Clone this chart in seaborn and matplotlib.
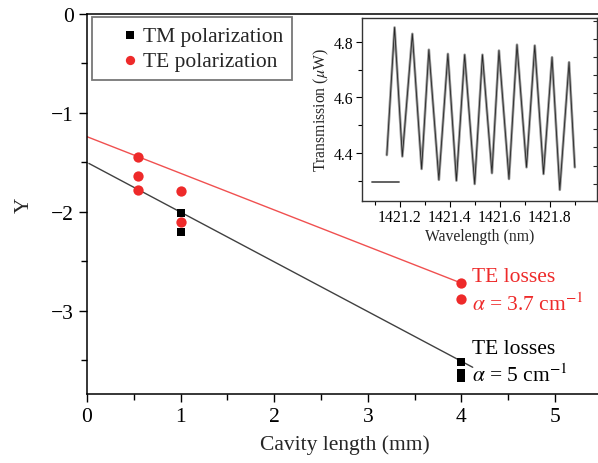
import numpy as np
import pandas as pd
import matplotlib
matplotlib.use('Agg')
import matplotlib.pyplot as plt
import seaborn as sns
from matplotlib.ticker import MultipleLocator, FormatStrFormatter

# Main panel data
te_length = [0.55, 0.55, 0.55, 1.0, 1.0, 4.0, 4.0]
te_y = [-1.45, -1.64, -1.78, -1.79, -2.10, -2.72, -2.88]
tm_length = [1.0, 1.0, 4.0, 4.0, 4.0]
tm_y = [-2.01, -2.20, -3.52, -3.63, -3.68]

# Fitted lines (endpoints)
te_fit_x = [0.0, 4.0]
te_fit_y = [-1.24, -2.72]
tm_fit_x = [0.02, 4.12]
tm_fit_y = [-1.51, -3.57]

# Inset: transmission spectrum (peaks/troughs)
wl = [1421.149, 1421.180, 1421.211, 1421.251, 1421.288, 1421.317, 1421.357,
      1421.393, 1421.427, 1421.460, 1421.500, 1421.531, 1421.569, 1421.597,
      1421.637, 1421.669, 1421.707, 1421.740, 1421.775, 1421.809, 1421.840,
      1421.877, 1421.900]
trans = [4.393, 4.851, 4.388, 4.828, 4.343, 4.771, 4.304, 4.756, 4.301,
         4.753, 4.289, 4.753, 4.328, 4.768, 4.307, 4.789, 4.349, 4.786,
         4.325, 4.744, 4.268, 4.726, 4.349]
base_wl = [1421.09, 1421.196]
base_tr = [4.297, 4.297]

sns.set_style('ticks')
plt.rcParams['font.family'] = ['Liberation Serif', 'DejaVu Serif']
plt.rcParams['mathtext.fontset'] = 'stix'

red = '#ee2a2a'
fs = 15.5

fig = plt.figure(figsize=(5.98, 4.64), dpi=100)
ax = fig.add_axes([0.1455, 0.1487, 0.861, 0.819])

ax.plot(te_fit_x, te_fit_y, color='#f05050', lw=1.0, zorder=2)
ax.plot(tm_fit_x, tm_fit_y, color='#404040', lw=1.0, zorder=2)

tm_df = pd.DataFrame({'x': tm_length, 'y': tm_y})
te_df = pd.DataFrame({'x': te_length, 'y': te_y})
sns.scatterplot(data=tm_df, x='x', y='y', marker='s', color='black', s=40,
                linewidth=0, ax=ax, label='TM polarization', zorder=3)
sns.scatterplot(data=te_df, x='x', y='y', marker='o', color=red, s=55,
                linewidth=0, ax=ax, label='TE polarization', zorder=3)

ax.set_xlim(0, 5.5)
ax.set_ylim(-3.84, 0)
ax.xaxis.set_major_locator(MultipleLocator(1))
ax.xaxis.set_minor_locator(MultipleLocator(0.5))
ax.yaxis.set_major_locator(MultipleLocator(1))
ax.yaxis.set_minor_locator(MultipleLocator(0.5))
ax.tick_params(which='both', direction='out', labelsize=fs, width=1, colors='black')
ax.tick_params(which='major', length=6)
ax.tick_params(which='minor', length=4)
for sp in ax.spines.values():
    sp.set_linewidth(1.1)
    sp.set_color('black')
ax.set_xlabel('Cavity length (mm)', fontsize=fs, labelpad=6)
ax.set_ylabel('Y', fontsize=fs, labelpad=12)

leg = ax.legend(loc='upper left', bbox_to_anchor=(0.01, 0.992), fontsize=fs,
                frameon=True, fancybox=False, handlelength=2.64, handletextpad=-0.72,
                borderpad=0.42, labelspacing=0.2, borderaxespad=0, markerscale=0.9)
leg.get_frame().set_edgecolor('#555555')
leg.get_frame().set_linewidth(1.3)

ax.text(4.11, -2.65, 'TE losses', color=red, fontsize=fs, va='center')
ax.text(4.11, -2.93, r'$\alpha$ = 3.7 cm$^{-1}$', color=red, fontsize=fs, va='center')
ax.text(4.11, -3.38, 'TE losses', color='black', fontsize=fs, va='center')
ax.text(4.11, -3.65, r'$\alpha$ = 5 cm$^{-1}$', color='black', fontsize=fs, va='center')

# Inset
ins = fig.add_axes([0.6054, 0.5647, 0.3935, 0.3944])
spec = pd.DataFrame({'wl': wl, 'tr': trans})
sns.lineplot(data=spec, x='wl', y='tr', color='#9a9a9a', lw=1.9, ax=ins)
sns.lineplot(data=spec, x='wl', y='tr', color='#111111', lw=0.6, alpha=0.85, ax=ins)
ins.plot(base_wl, base_tr, color='#555555', lw=1.3)
ins.set_xlim(1421.05, 1421.99)
ins.set_ylim(4.228, 4.885)
ins.xaxis.set_major_locator(MultipleLocator(0.2))
ins.xaxis.set_minor_locator(MultipleLocator(0.1))
ins.yaxis.set_major_locator(MultipleLocator(0.2))
ins.yaxis.set_minor_locator(MultipleLocator(0.1))
ins.xaxis.set_major_formatter(FormatStrFormatter('%.1f'))
ins.yaxis.set_major_formatter(FormatStrFormatter('%.1f'))
ins.tick_params(which='both', direction='out', labelsize=11.3, width=0.8, colors='black', pad=2)
ins.tick_params(which='major', length=4)
ins.tick_params(which='minor', length=3)
for sp in ins.spines.values():
    sp.set_linewidth(1.0)
    sp.set_color('#333333')
ins.set_xlabel('Wavelength (nm)', fontsize=11.3, labelpad=2)
ins.set_ylabel(r'Transmission ($\mu$W)', fontsize=11.3, labelpad=2)

sec = ins.secondary_yaxis('right')
sec.yaxis.set_major_locator(MultipleLocator(0.065))
sec.tick_params(direction='in', length=3, width=0.8, labelright=False)
sec.spines['right'].set_visible(False)

fig.savefig('out.png', dpi=100)
